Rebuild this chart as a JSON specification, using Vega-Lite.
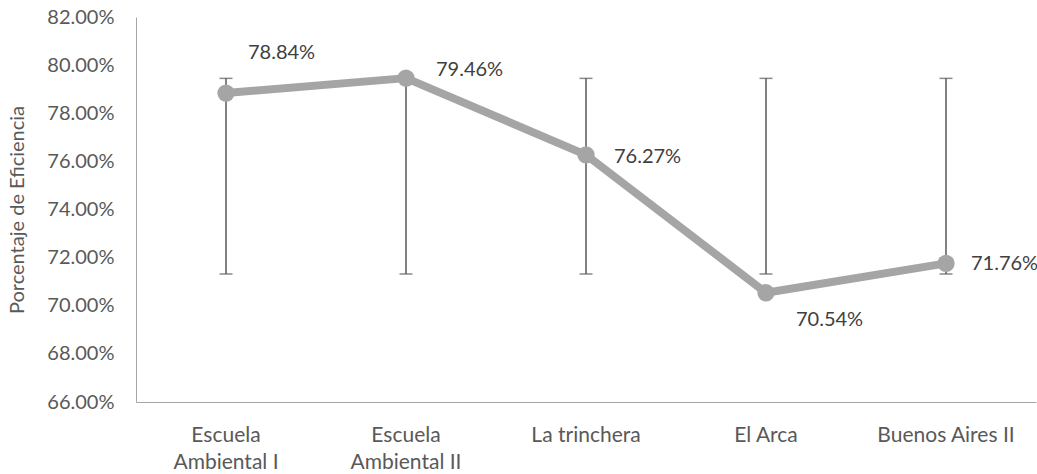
{
  "$schema": "https://vega.github.io/schema/vega-lite/v6.json",
  "width": 900,
  "height": 385,
  "autosize": "none",
  "padding": {"left": 136, "top": 17, "right": 1, "bottom": 72},
  "background": "white",
  "config": {
    "font": "Lato",
    "view": {"stroke": null},
    "axis": {"labelFont": "Lato", "titleFont": "Lato", "labelColor": "#595959", "titleColor": "#595959"}
  },
  "data": {
    "values": [
      {"sitio": "Escuela Ambiental I", "eficiencia": 0.7884, "inferior": 0.7132, "superior": 0.7945},
      {"sitio": "Escuela Ambiental II", "eficiencia": 0.7946, "inferior": 0.7132, "superior": 0.7945},
      {"sitio": "La trinchera", "eficiencia": 0.7627, "inferior": 0.7132, "superior": 0.7945},
      {"sitio": "El Arca", "eficiencia": 0.7054, "inferior": 0.7132, "superior": 0.7945},
      {"sitio": "Buenos Aires II", "eficiencia": 0.7176, "inferior": 0.7132, "superior": 0.7945}
    ]
  },
  "encoding": {
    "x": {
      "field": "sitio", "type": "nominal", "sort": null,
      "scale": {"paddingInner": 0, "paddingOuter": 0},
      "axis": {
        "title": null, "labelAngle": 0, "ticks": false, "domainColor": "#a6a6a6", "domainWidth": 1,
        "labelFontSize": 21, "labelPadding": 33, "labelLineHeight": 27, "labelBaseline": "middle",
        "labelExpr": "datum.label == 'Escuela Ambiental I' ? ['Escuela', 'Ambiental I'] : datum.label == 'Escuela Ambiental II' ? ['Escuela', 'Ambiental II'] : datum.label"
      }
    }
  },
  "layer": [
    {
      "mark": {"type": "rule", "color": "#595959", "strokeWidth": 1.5},
      "encoding": {
        "y": {
          "field": "inferior", "type": "quantitative",
          "scale": {"domain": [0.66, 0.82], "nice": false, "zero": false},
          "axis": {
            "title": "Porcentaje de Eficiencia", "format": ".2%", "values": [0.66, 0.68, 0.70, 0.72, 0.74, 0.76, 0.78, 0.80, 0.82],
            "grid": false, "ticks": false, "domainColor": "#a6a6a6", "domainWidth": 1,
            "labelFontSize": 20, "labelPadding": 22, "titleFontSize": 20, "titleFontWeight": "normal",
            "titleX": -119, "titleBaseline": "middle"
          }
        },
        "y2": {"field": "superior"}
      }
    },
    {
      "mark": {"type": "tick", "color": "#595959", "thickness": 1.5, "size": 13},
      "encoding": {"y": {"field": "inferior", "type": "quantitative"}}
    },
    {
      "mark": {"type": "tick", "color": "#595959", "thickness": 1.5, "size": 13},
      "encoding": {"y": {"field": "superior", "type": "quantitative"}}
    },
    {
      "mark": {"type": "line", "color": "#a5a5a5", "strokeWidth": 8, "strokeJoin": "round"},
      "encoding": {"y": {"field": "eficiencia", "type": "quantitative"}}
    },
    {
      "mark": {"type": "point", "filled": true, "color": "#a5a5a5", "opacity": 1, "size": 300},
      "encoding": {"y": {"field": "eficiencia", "type": "quantitative"}}
    },
    {
      "transform": [{"filter": "datum.sitio == 'Escuela Ambiental I'"}],
      "mark": {"type": "text", "align": "left", "baseline": "middle", "dx": 22, "dy": -40, "fontSize": 20, "color": "#404040"},
      "encoding": {"y": {"field": "eficiencia", "type": "quantitative"}, "text": {"field": "eficiencia", "type": "quantitative", "format": ".2%"}}
    },
    {
      "transform": [{"filter": "datum.sitio == 'Escuela Ambiental II'"}],
      "mark": {"type": "text", "align": "left", "baseline": "middle", "dx": 30, "dy": -8, "fontSize": 20, "color": "#404040"},
      "encoding": {"y": {"field": "eficiencia", "type": "quantitative"}, "text": {"field": "eficiencia", "type": "quantitative", "format": ".2%"}}
    },
    {
      "transform": [{"filter": "datum.sitio == 'La trinchera'"}],
      "mark": {"type": "text", "align": "left", "baseline": "middle", "dx": 28, "dy": 2, "fontSize": 20, "color": "#404040"},
      "encoding": {"y": {"field": "eficiencia", "type": "quantitative"}, "text": {"field": "eficiencia", "type": "quantitative", "format": ".2%"}}
    },
    {
      "transform": [{"filter": "datum.sitio == 'Buenos Aires II'"}],
      "mark": {"type": "text", "align": "left", "baseline": "middle", "dx": 25, "dy": 1, "fontSize": 20, "color": "#404040"},
      "encoding": {"y": {"field": "eficiencia", "type": "quantitative"}, "text": {"field": "eficiencia", "type": "quantitative", "format": ".2%"}}
    },
    {
      "transform": [{"filter": "datum.sitio == 'El Arca'"}],
      "mark": {"type": "text", "align": "left", "baseline": "middle", "dx": 30, "dy": 27, "fontSize": 20, "color": "#404040"},
      "encoding": {"y": {"field": "eficiencia", "type": "quantitative"}, "text": {"field": "eficiencia", "type": "quantitative", "format": ".2%"}}
    }
  ]
}
